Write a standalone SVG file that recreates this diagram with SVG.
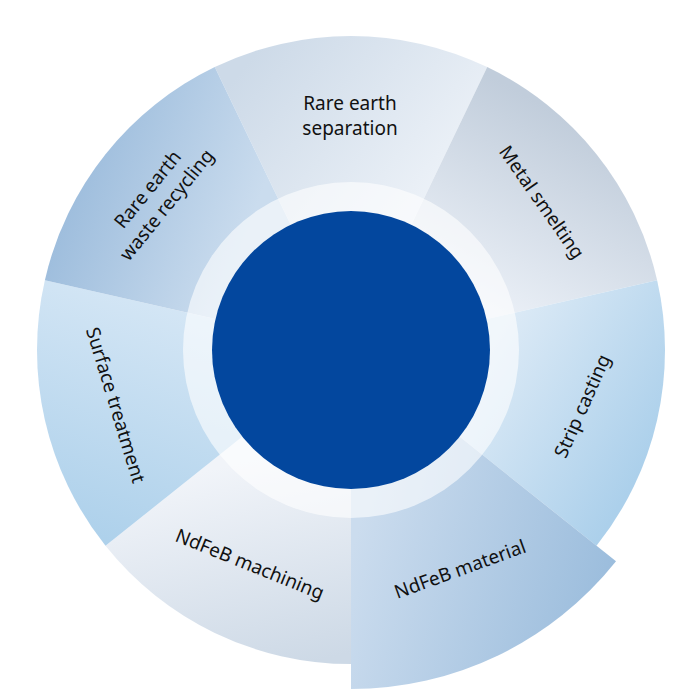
<svg xmlns="http://www.w3.org/2000/svg" width="700" height="700" viewBox="0 0 700 700">
  <style>
    .lbl { font-family: "Noto Sans", "Open Sans", sans-serif; font-size: 19px; fill: #111111; text-anchor: middle; }
  </style>
  <defs>
    <linearGradient id="gSep" gradientUnits="userSpaceOnUse" x1="250" y1="60" x2="430" y2="210">
      <stop offset="0" stop-color="#cddae8"/><stop offset="1" stop-color="#edf2f8"/>
    </linearGradient>
    <linearGradient id="gMet" gradientUnits="userSpaceOnUse" x1="570" y1="120" x2="470" y2="300">
      <stop offset="0" stop-color="#c1cddb"/><stop offset="1" stop-color="#ebf0f7"/>
    </linearGradient>
    <linearGradient id="gStr" gradientUnits="userSpaceOnUse" x1="500" y1="330" x2="665" y2="430">
      <stop offset="0" stop-color="#dceaf6"/><stop offset="1" stop-color="#acd0eb"/>
    </linearGradient>
    <linearGradient id="gMat" gradientUnits="userSpaceOnUse" x1="355" y1="540" x2="610" y2="610">
      <stop offset="0" stop-color="#cbdcee"/><stop offset="1" stop-color="#9abcdc"/>
    </linearGradient>
    <linearGradient id="gMac" gradientUnits="userSpaceOnUse" x1="250" y1="460" x2="300" y2="665">
      <stop offset="0" stop-color="#f1f4f9"/><stop offset="1" stop-color="#cdd9e6"/>
    </linearGradient>
    <linearGradient id="gSur" gradientUnits="userSpaceOnUse" x1="160" y1="300" x2="80" y2="530">
      <stop offset="0" stop-color="#d4e6f5"/><stop offset="1" stop-color="#aed1eb"/>
    </linearGradient>
    <linearGradient id="gRec" gradientUnits="userSpaceOnUse" x1="60" y1="200" x2="235" y2="265">
      <stop offset="0" stop-color="#9cbcdc"/><stop offset="1" stop-color="#cadcee"/>
    </linearGradient>
  </defs>

  <g id="seg-separation">
    <path d="M351 350 L214.76 67.10 A314 314 0 0 1 487.24 67.10 Z" fill="url(#gSep)"/>
  </g>
  <g id="seg-smelting">
    <path d="M351 350 L487.24 67.10 A314 314 0 0 1 657.13 280.13 Z" fill="url(#gMet)"/>
  </g>
  <g id="seg-strip">
    <path d="M351 350 L657.13 280.13 A314 314 0 0 1 596.49 545.78 Z" fill="url(#gStr)"/>
  </g>
  <g id="seg-material">
    <path d="M351 350 L616.04 561.36 A339 339 0 0 1 351 689 Z" fill="url(#gMat)"/>
  </g>
  <g id="seg-machining">
    <path d="M351 350 L351 664 A314 314 0 0 1 105.51 545.78 Z" fill="url(#gMac)"/>
  </g>
  <g id="seg-surface">
    <path d="M351 350 L105.51 545.78 A314 314 0 0 1 44.87 280.13 Z" fill="url(#gSur)"/>
  </g>
  <g id="seg-recycling">
    <path d="M351 350 L44.87 280.13 A314 314 0 0 1 214.76 67.10 Z" fill="url(#gRec)"/>
  </g>

  <g id="hub">
    <circle cx="351" cy="350" r="168" fill="#ffffff" fill-opacity="0.6"/>
    <circle cx="351" cy="350" r="139" fill="#03479e"/>
  </g>

  <g id="labels">
    <text class="lbl" x="350" y="110">Rare earth</text>
    <text class="lbl" x="350" y="134.5">separation</text>
    <text class="lbl" transform="translate(542 202) rotate(55)" y="6.8">Metal smelting</text>
    <text class="lbl" transform="translate(582 406) rotate(-66)" y="6.8">Strip casting</text>
    <text class="lbl" transform="translate(460 569) rotate(-20)" y="6.8">NdFeB material</text>
    <text class="lbl" transform="translate(250 564) rotate(22)" y="6.8">NdFeB machining</text>
    <text class="lbl" transform="translate(116 405) rotate(73)" y="6.8">Surface treatment</text>
    <g transform="translate(157 197) rotate(-51)">
      <text class="lbl" y="-5.5">Rare earth</text>
      <text class="lbl" y="19">waste recycling</text>
    </g>
  </g>
  <g id="connectors"/>
</svg>
